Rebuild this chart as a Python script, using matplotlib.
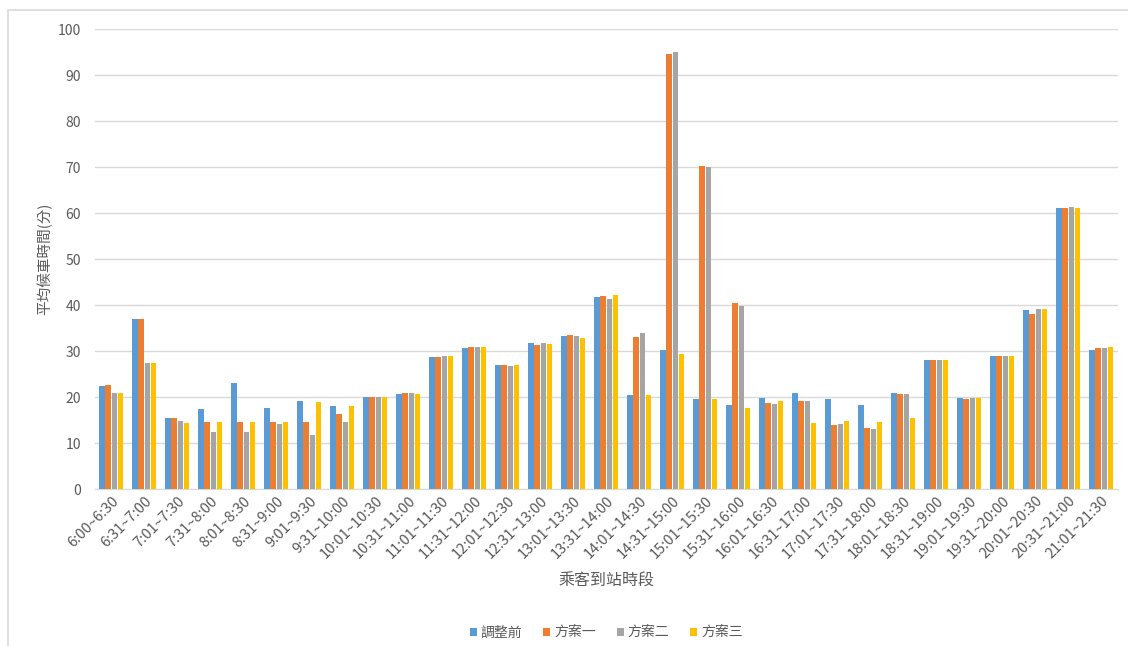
import matplotlib.pyplot as plt
import numpy as np
from matplotlib.patches import Rectangle

plt.rcParams['font.family'] = ['Noto Sans CJK TC', 'DejaVu Sans']

periods = ['6:00~6:30', '6:31~7:00', '7:01~7:30', '7:31~8:00', '8:01~8:30', '8:31~9:00',
           '9:01~9:30', '9:31~10:00', '10:01~10:30', '10:31~11:00', '11:01~11:30',
           '11:31~12:00', '12:01~12:30', '12:31~13:00', '13:01~13:30', '13:31~14:00',
           '14:01~14:30', '14:31~15:00', '15:01~15:30', '15:31~16:00', '16:01~16:30',
           '16:31~17:00', '17:01~17:30', '17:31~18:00', '18:01~18:30', '18:31~19:00',
           '19:01~19:30', '19:31~20:00', '20:01~20:30', '20:31~21:00', '21:01~21:30']

before = [22.5, 37.0, 15.5, 17.5, 23.0, 17.6, 19.1, 18.1, 20.0, 20.6, 28.7,
          30.6, 27.0, 31.7, 33.3, 41.8, 20.4, 30.3, 19.6, 18.2, 19.7,
          20.8, 19.5, 18.2, 20.8, 28.0, 19.8, 28.9, 38.9, 61.2, 30.3]
plan1 = [22.7, 37.0, 15.5, 14.5, 14.5, 14.5, 14.5, 16.4, 20.0, 20.8, 28.7,
         30.9, 27.0, 31.4, 33.5, 42.0, 33.1, 94.6, 70.2, 40.4, 18.6,
         19.2, 13.9, 13.2, 20.6, 28.0, 19.6, 29.0, 38.1, 61.2, 30.6]
plan2 = [20.8, 27.5, 14.7, 12.3, 12.3, 14.2, 11.8, 14.5, 20.0, 20.8, 29.0,
         30.9, 26.7, 31.7, 33.3, 41.4, 34.0, 95.0, 70.0, 39.9, 18.4,
         19.2, 14.1, 13.1, 20.6, 28.0, 19.8, 28.9, 39.1, 61.4, 30.6]
plan3 = [20.8, 27.5, 14.4, 14.5, 14.5, 14.5, 18.9, 18.1, 20.0, 20.6, 29.0,
         30.9, 27.0, 31.5, 32.9, 42.1, 20.4, 29.3, 19.5, 17.6, 19.2,
         14.4, 14.7, 14.5, 15.4, 28.0, 19.8, 29.0, 39.2, 61.1, 30.8]

series = ['調整前', '方案一', '方案二', '方案三']
colors = ['#5B9BD5', '#ED7D31', '#A5A5A5', '#FFC000']

fig = plt.figure(figsize=(11.28, 6.46), dpi=100)
ax = fig.add_axes([0.084, 0.243, 0.907, 0.712])

x = np.arange(len(periods))
w = 0.17
for i, (vals, name, c) in enumerate(zip([before, plan1, plan2, plan3], series, colors)):
    ax.bar(x + (i - 1.5) * 0.185, vals, w, color=c, label=name, zorder=3)

ax.set_xlim(-0.5, len(periods) - 0.5)
ax.set_ylim(0, 100)
ax.set_yticks(range(0, 101, 10))
ax.grid(axis='y', color='#D9D9D9', linewidth=1, zorder=0)
for s in ['top', 'right', 'left']:
    ax.spines[s].set_visible(False)
ax.spines['bottom'].set_color('#D9D9D9')
ax.tick_params(length=0, colors='#595959', labelsize=10)
ax.tick_params(axis='y', pad=10)
ax.set_xticks(x)
ax.set_xticklabels(periods, rotation=45, ha='right', rotation_mode='anchor', fontsize=10.5)

ax.set_ylabel('平均候車時間(分)', color='#595959', fontsize=10.5, labelpad=4)
ax.set_xlabel('乘客到站時段', color='#595959', fontsize=11.5, labelpad=8)

ax.legend(loc='upper center', bbox_to_anchor=(0.5, -0.27), ncol=4, frameon=False,
          handlelength=0.5, handleheight=0.5, handletextpad=0.3, columnspacing=1.5,
          fontsize=10, labelcolor='#595959')

fig.patches.append(Rectangle((0.007, -0.01), 1.0, 0.995, transform=fig.transFigure,
                             fill=False, edgecolor='#D9D9D9', linewidth=1.2))

fig.savefig('out.png', dpi=100)
